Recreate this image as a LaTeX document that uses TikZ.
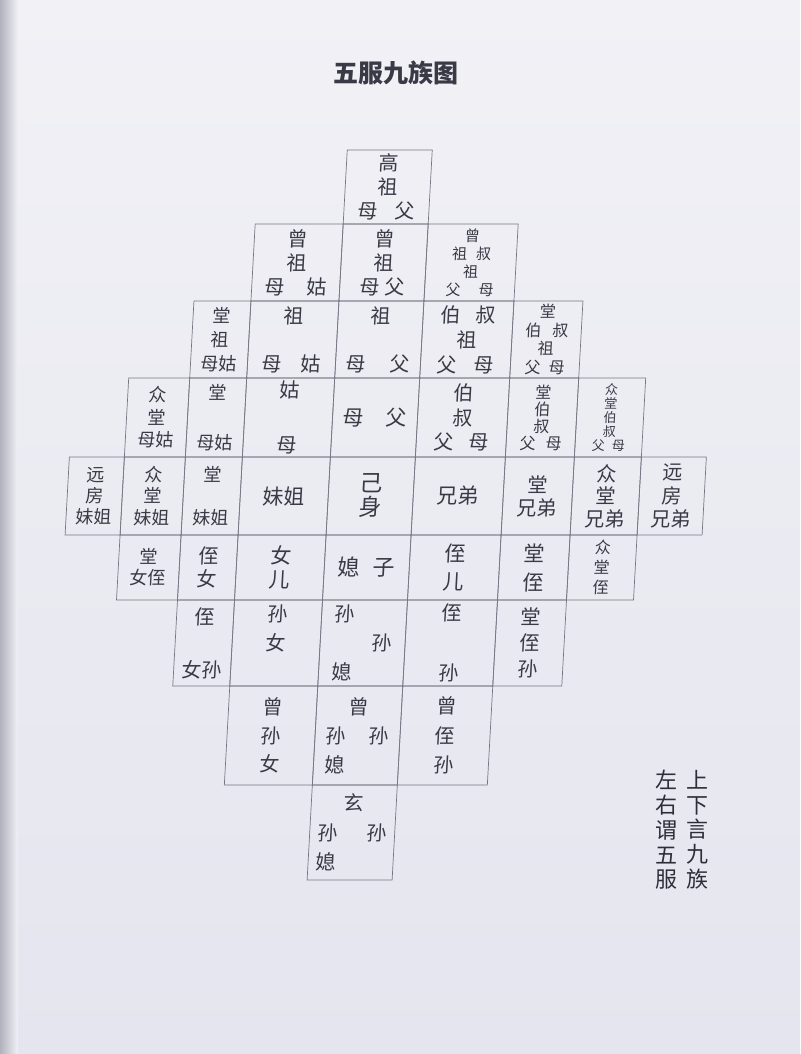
\documentclass[tikz,border=0pt]{standalone}
\usepackage{fontspec}
\newfontfamily\cjk{Noto Sans CJK SC}
\definecolor{papertop}{RGB}{241,241,246}
\definecolor{paperbot}{RGB}{228,229,238}
\definecolor{gutter}{RGB}{178,178,190}
\definecolor{ink}{RGB}{58,58,70}
\definecolor{rule}{RGB}{118,118,132}
\begin{document}
\begin{tikzpicture}[x=1pt,y=-1pt]
  \tikzset{kin/.style={draw=rule, line width=0.7pt, inner sep=0pt, align=center, text=ink},
           cell/.style 2 args={kin, minimum width=#1pt, minimum height=#2pt},
           sz/.style 2 args={font=\cjk\fontsize{#1}{#2}\selectfont}};
  \useasboundingbox (0,0) rectangle (800,1054);
  \shade[top color=papertop, bottom color=paperbot] (0,0) rectangle (800,1054);
  \shade[left color=gutter, right color=papertop] (0,0) rectangle (18,1054);

  \node[font=\cjk\bfseries\fontsize{25}{28}\selectfont, text=ink] (title) at (396,73) {五服九族图};

  \begin{scope}[shift={(27.5,0)}, xslant=0.055, transform shape]
  % 高祖
  \node[cell={85}{74}, sz={20}{24}] (gaozu) at (370.5,187) {高\\祖\\母\hspace{17pt}父};
  % 曾祖
  \node[cell={88}{77}, sz={20}{24}] (zengzugu) at (284,262.5) {曾\\祖\\母\hspace{22pt}姑};
  \node[cell={85}{77}, sz={20}{24}] (zengzu) at (370.5,262.5) {曾\\祖\\母\hspace{5pt}父};
  \node[cell={90}{77}, sz={15}{18}] (zengshuzu) at (458,262.5) {曾\\祖\hspace{9pt}叔\\祖\\父\hspace{18pt}母};
  % 祖
  \node[cell={57}{77}, sz={18}{24}] (tangzugu) at (211.5,339.5) {堂\\祖\\母姑};
  \node[cell={88}{77}, sz={20}{24}] (zugu) at (284,339.5) {祖\\[24pt]母\hspace{19pt}姑};
  \node[cell={85}{77}, sz={20}{24}] (zu) at (370.5,339.5) {祖\\[24pt]母\hspace{24pt}父};
  \node[cell={90}{77}, sz={20}{25}] (bozu) at (458,339.5) {伯\hspace{15pt}叔\\祖\\父\hspace{17pt}母};
  \node[cell={69}{77}, sz={16}{18.5}] (tangbozu) at (537.5,339.5) {堂\\伯\hspace{11pt}叔\\祖\\父\hspace{8pt}母};
  % 父
  \node[cell={61}{79}, sz={18}{22.5}] (zhongtanggu) at (152.5,417.5) {众\\堂\\母姑};
  \node[cell={57}{79}, sz={18}{22}] (tanggu) at (211.5,417.5) {堂\\[28pt]母姑};
  \node[cell={88}{79}, sz={20}{24}] (gu) at (284,417.5) {姑\\[31pt]母};
  \node[cell={85}{79}, sz={21}{24}] (fumu) at (370.5,417.5) {母\hspace{22pt}父};
  \node[cell={90}{79}, sz={20}{24.5}] (bofu) at (458,417.5) {伯\\叔\\父\hspace{15pt}母};
  \node[cell={69}{79}, sz={16}{17}] (tangbofu) at (537.5,417.5) {堂\\伯\\叔\\父\hspace{10pt}母};
  \node[cell={67}{79}, sz={13}{14}] (zhongbofu) at (605.5,417.5) {众\\堂\\伯\\叔\\父\hspace{7pt}母};
  % 己身
  \node[cell={55}{78}, sz={18}{21}] (yuanjie) at (94.5,496) {远\\房\\妹姐};
  \node[cell={61}{78}, sz={18}{21.5}] (zhongjie) at (152.5,496) {众\\堂\\妹姐};
  \node[cell={57}{78}, sz={18}{22}] (tangjie) at (211.5,496) {堂\\[21pt]妹姐};
  \node[cell={88}{78}, sz={21}{24}] (jie) at (284,496) {妹姐};
  \node[cell={85}{78}, sz={23}{24}] (self) at (370.5,496) {己\\身};
  \node[cell={90}{78}, sz={21}{24}] (xiongdi) at (458,496) {兄弟};
  \node[cell={69}{78}, sz={20}{23}] (tangxiong) at (537.5,496) {堂\\兄弟};
  \node[cell={67}{78}, sz={20}{22.5}] (zhongxiong) at (605.5,496) {众\\堂\\兄弟};
  \node[cell={65}{78}, sz={20}{23.5}] (yuanxiong) at (671.5,496) {远\\房\\兄弟};
  % 子
  \node[cell={61}{65}, sz={18}{21}] (tangzhinv) at (152.5,567.5) {堂\\女侄};
  \node[cell={57}{65}, sz={20}{23}] (zhinv) at (211.5,567.5) {侄\\女};
  \node[cell={88}{65}, sz={21}{24}] (nver) at (284,567.5) {女\\儿};
  \node[cell={85}{65}, sz={22}{24}] (zi) at (370.5,567.5) {媳\hspace{13pt}子};
  \node[cell={90}{65}, sz={21}{28}] (zhier) at (458,567.5) {侄\\儿};
  \node[cell={69}{65}, sz={21}{29}] (tangzhi) at (537.5,567.5) {堂\\侄};
  \node[cell={67}{65}, sz={16}{20}] (zhongzhi) at (605.5,567.5) {众\\堂\\侄};
  % 孙
  \node[cell={57}{86}, sz={20}{21}] (zhinvsun) at (211.5,643) {侄\\[32pt]女孙};
  \node[cell={88}{86}, sz={20}{29}] (sunnv) at (284,643) {孙\\女\\\phantom{女}};
  \node[cell={85}{86}, sz={20}{29}] (sun) at (370.5,643) {孙\hspace{19pt}\phantom{孙}\\\phantom{孙}\hspace{19pt}孙\\媳\hspace{19pt}\phantom{孙}};
  \node[cell={90}{86}, sz={20}{22}] (zhisun) at (458,643) {侄\\[38pt]孙};
  \node[cell={69}{86}, sz={20}{26}] (tangzhisun) at (537.5,643) {堂\\侄\\孙};
  % 曾孙
  \node[cell={88}{99}, sz={20}{28.5}] (zengsunnv) at (284,735.5) {曾\\孙\\女};
  \node[cell={85}{99}, sz={20}{29}] (zengsun) at (370.5,735.5) {曾\\孙\hspace{23pt}孙\\媳\hspace{23pt}\phantom{孙}};
  \node[cell={90}{99}, sz={20}{29.5}] (zengzhisun) at (458,735.5) {曾\\侄\\孙};
  % 玄孙
  \node[cell={85}{95}, sz={20}{29.5}] (xuansun) at (370.5,832.5) {玄\\孙\hspace{29pt}孙\\媳\hspace{29pt}\phantom{孙}};
  \end{scope}

  \node[sz={22}{24.7}, align=center, text=ink!80!black] (shangxia) at (697,829.5) {上\\下\\言\\九\\族};
  \node[sz={22}{24.7}, align=center, text=ink!80!black] (zuoyou) at (666,830) {左\\右\\谓\\五\\服};
\end{tikzpicture}
\end{document}
